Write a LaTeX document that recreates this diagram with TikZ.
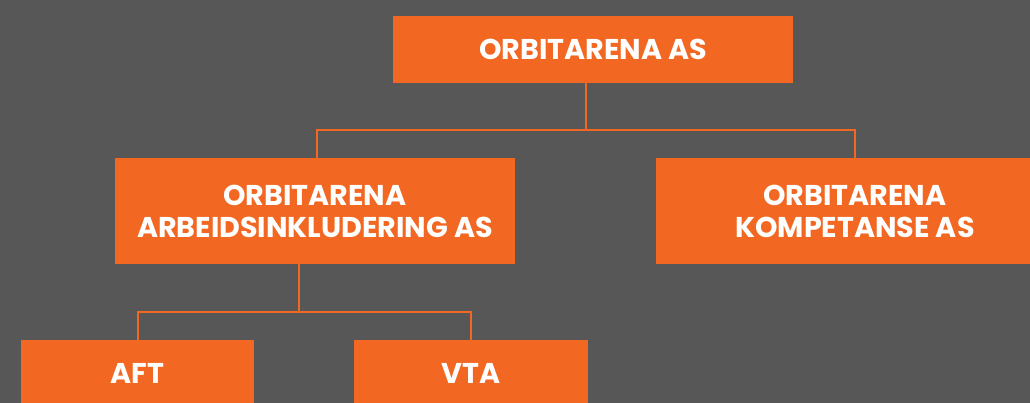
\documentclass[tikz,border=0pt]{standalone}
\usepackage{fontspec}
\setmainfont{Poppins}
\definecolor{bg}{HTML}{565756}
\definecolor{org}{HTML}{F26822}
\begin{document}
\begin{tikzpicture}[x=1pt,y=-1pt,
  box/.style={fill=org, draw=none, inner sep=0pt, align=center, text=white,
    font=\fontsize{28.6}{32}\selectfont\bfseries},
  conn/.style={draw=org, line width=2pt}]
\fill[bg] (0,0) rectangle (1030,403);
\useasboundingbox (0,0) rectangle (1030,403);
\clip (0,0) rectangle (1030,403);
\node[box, minimum width=400pt, minimum height=67pt] (top) at (593,49.5) {ORBITARENA AS};
\node[box, minimum width=400pt, minimum height=106pt] (ml) at (315,211) {ORBITARENA\\ARBEIDSINKLUDERING AS};
\node[box, minimum width=398pt, minimum height=106pt] (mr) at (855,211) {ORBITARENA\\KOMPETANSE AS};
\node[box, minimum width=233pt, minimum height=67pt] (aft) at (137.5,373.5) {AFT};
\node[box, minimum width=234pt, minimum height=67pt] (vta) at (471,373.5) {VTA};
\coordinate (j1) at (586,130);
\coordinate (bl) at (317,130);
\coordinate (br) at (855,130);
\coordinate (j2) at (299,312);
\coordinate (cl) at (137.5,312);
\coordinate (cr) at (471,312);
\draw[conn] (top.south -| j1) -- (j1);
\draw[conn] (ml.north -| bl) -- (bl) -- (br) -- (mr.north);
\draw[conn] (ml.south -| j2) -- (j2);
\draw[conn] (aft.north) -- (cl) -- (cr) -- (vta.north);
\end{tikzpicture}
\end{document}
